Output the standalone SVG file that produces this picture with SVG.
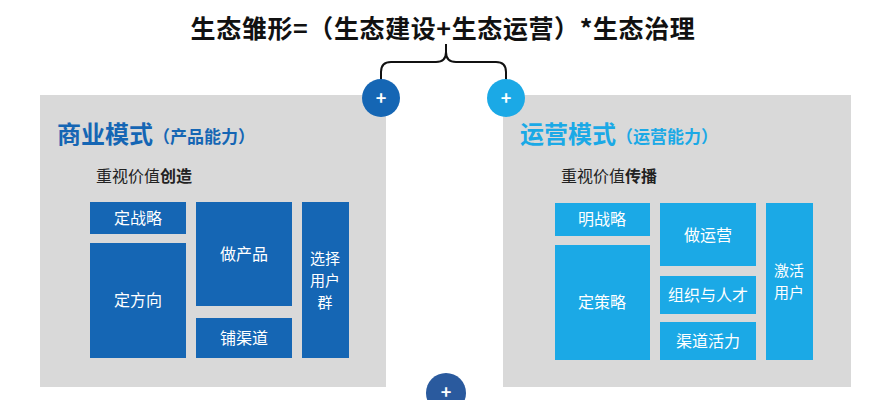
<svg xmlns="http://www.w3.org/2000/svg" width="889" height="400" viewBox="0 0 889 400">
<style>
text{font-family:"Noto Sans CJK SC","Liberation Sans",sans-serif}
.p{fill:#d9d9d9}
.d{fill:#1566b4}
.l{fill:#1ba9e6}
.bt{fill:#fff;font-size:16px;text-anchor:middle}
.vt{fill:#fff;font-size:15px;text-anchor:middle}
.pl{fill:#fff;font-size:18px;font-weight:bold;text-anchor:middle}
</style>
<rect width="889" height="400" fill="#fff"/>
<text x="443" y="38" font-size="25" font-weight="bold" text-anchor="middle" fill="#111" letter-spacing="0.6">生态雏形=（生态建设+生态运营）*生态治理</text>
<g id="connectors"><path d="M381 80 V72 Q381 62 391 62 H436 Q446 62 446 52 V44 M446 52 Q446 62 456 62 H496 Q506 62 506 72 V80" fill="none" stroke="#111" stroke-width="2"/></g>
<g id="left">
<rect class="p" x="40" y="95" width="346" height="292"/>
<text x="57" y="143" font-size="24" font-weight="bold" fill="#1566b4">商业模式<tspan font-size="17">（产品能力）</tspan></text>
<text x="96" y="182" font-size="16" fill="#222">重视价值<tspan font-weight="bold">创造</tspan></text>
<rect class="d" x="90" y="202" width="96" height="32"/><text class="bt" x="138" y="224">定战略</text>
<rect class="d" x="90" y="243" width="96" height="115"/><text class="bt" x="138" y="306">定方向</text>
<rect class="d" x="196" y="202" width="96" height="104"/><text class="bt" x="244" y="260">做产品</text>
<rect class="d" x="196" y="318" width="96" height="40"/><text class="bt" x="244" y="344">铺渠道</text>
<rect class="d" x="302" y="202" width="47" height="156"/>
<text class="vt" x="325" y="264">选择</text><text class="vt" x="325" y="286">用户</text><text class="vt" x="325" y="308">群</text>
</g>
<g id="right">
<rect class="p" x="503" y="95" width="348" height="292"/>
<text x="520" y="143" font-size="24" font-weight="bold" fill="#1ba9e6">运营模式<tspan font-size="17">（运营能力）</tspan></text>
<text x="561" y="182" font-size="16" fill="#222">重视价值<tspan font-weight="bold">传播</tspan></text>
<rect class="l" x="555" y="203" width="95" height="33"/><text class="bt" x="602" y="225">明战略</text>
<rect class="l" x="555" y="245" width="95" height="115"/><text class="bt" x="602" y="308">定策略</text>
<rect class="l" x="660" y="203" width="96" height="63"/><text class="bt" x="708" y="241">做运营</text>
<rect class="l" x="660" y="276" width="96" height="38"/><text class="bt" x="708" y="301">组织与人才</text>
<rect class="l" x="660" y="322" width="96" height="38"/><text class="bt" x="708" y="347">渠道活力</text>
<rect class="l" x="766" y="203" width="47" height="157"/>
<text class="vt" x="789" y="276">激活</text><text class="vt" x="789" y="298">用户</text>
</g>
<g id="c1"><circle cx="381" cy="98" r="19" fill="#1566b4"/><text class="pl" x="381" y="105">+</text></g>
<g id="c2"><circle cx="506" cy="98" r="19" fill="#1ba9e6"/><text class="pl" x="506" y="105">+</text></g>
<g id="c3"><circle cx="446" cy="393" r="20" fill="#2a5a9e"/><text class="pl" x="446" y="399">+</text></g>
</svg>
